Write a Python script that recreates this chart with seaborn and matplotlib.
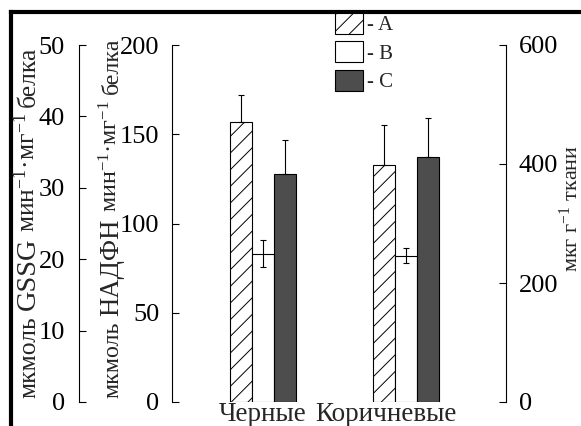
import numpy as np
import pandas as pd
import matplotlib
matplotlib.use("Agg")
import matplotlib.pyplot as plt
import matplotlib.transforms as mtransforms
import seaborn as sns
from matplotlib.patches import Patch
from matplotlib.lines import Line2D

# ---- data ----
groups = ["Черные", "Коричневые"]
series = ["A", "B", "C"]
values_A = [157, 133]
values_B = [83, 82]
values_C = [128, 137]
err_A = [15, 22]
err_B = [7.5, 4.2]
err_C = [19, 22]
legend_labels = ["- A", "- B", "- C"]
gssg_ticks = [0, 10, 20, 30, 40, 50]
nadph_ticks = [0, 50, 100, 150, 200]
right_ticks = [0, 200, 400, 600]

sns.set_style("white")
plt.rcParams["font.family"] = ["Liberation Serif", "DejaVu Serif"]
plt.rcParams["mathtext.fontset"] = "custom"
plt.rcParams["mathtext.rm"] = "Liberation Serif"
plt.rcParams["mathtext.it"] = "Liberation Serif:italic"
plt.rcParams["mathtext.default"] = "regular"
plt.rcParams["hatch.linewidth"] = 0.7

W, H = 581, 426
fig = plt.figure(figsize=(W / 100, H / 100), dpi=100)
fig.patch.set_facecolor("white")

ax = fig.add_axes([172 / W, 24 / H, 334 / W, 357 / H])

vals = [values_A, values_B, values_C]
df = pd.DataFrame({
    "group": [g for s in series for g in groups],
    "series": [s for s in series for g in groups],
    "value": [v for vs in vals for v in vs],
})
colors = {"A": "white", "B": "white", "C": "#4d4d4d"}
sns.barplot(data=df, x="group", y="value", hue="series", order=groups,
            hue_order=series, palette=colors, saturation=1, width=0.46,
            errorbar=None, edgecolor="black", linewidth=0.8, ax=ax, legend=False)

for bar in ax.containers[0]:
    bar.set_hatch("//")

errs = [err_A, err_B, err_C]
for i, (cont, er) in enumerate(zip(ax.containers, errs)):
    for bar, e in zip(cont, er):
        x = bar.get_x() + bar.get_width() / 2
        h = bar.get_height()
        if series[i] == "B":
            yerr = [[e], [e]]
        else:
            yerr = [[0], [e]]
        ax.errorbar([x], [h], yerr=yerr, fmt="none", ecolor="black",
                    elinewidth=0.8, capsize=2.5, capthick=0.8, zorder=5)

ax.set_xlim(-0.636, 1.699)
ax.set_ylim(0, 200)
ax.set_xlabel("")
ax.set_ylabel("")
ax.set_yticks(nadph_ticks)
for s in ["top", "right", "bottom"]:
    ax.spines[s].set_visible(False)
ax.spines["left"].set_color("black")
ax.spines["left"].set_linewidth(0.8)
ax.yaxis.tick_left()
ax.tick_params(axis="y", direction="in", length=5, width=0.8, pad=9,
               labelsize=19, colors="black")
ax.tick_params(axis="x", length=0, pad=0, labelsize=19.5)
ax.set_facecolor("none")
# second category label sits left of its group centre in the reference
xt = ax.get_xticklabels()
xt[1].set_transform(xt[1].get_transform() +
                    mtransforms.ScaledTranslation(-20 / 100, 0, fig.dpi_scale_trans))

# GSSG axis
ax2 = ax.twinx()
ax2.set_ylim(0, 50)
ax2.set_yticks(gssg_ticks)
ax2.yaxis.tick_left()
for s in ["top", "right", "bottom"]:
    ax2.spines[s].set_visible(False)
ax2.spines["left"].set_visible(True)
ax2.spines["left"].set_position(("axes", (79 - 172) / 334))
ax2.spines["left"].set_color("black")
ax2.spines["left"].set_linewidth(0.8)
ax2.tick_params(axis="y", direction="in", length=5, width=0.8, pad=10,
                labelsize=19, colors="black")

# right axis
ax3 = ax.twinx()
ax3.set_ylim(0, 600)
ax3.set_yticks(right_ticks)
for s in ["top", "left", "bottom"]:
    ax3.spines[s].set_visible(False)
ax3.spines["right"].set_color("black")
ax3.spines["right"].set_linewidth(0.8)
ax3.tick_params(axis="y", direction="in", length=5, width=0.8, pad=9,
                labelsize=19, colors="black")

# legend
handles = [Patch(facecolor="white", edgecolor="black", hatch="//", linewidth=0.8),
           Patch(facecolor="white", edgecolor="black", linewidth=0.8),
           Patch(facecolor="#4d4d4d", edgecolor="black", linewidth=0.8)]
fs_leg = 15
px = fs_leg * 100 / 72
fig.legend(handles, legend_labels, loc="upper left",
           bbox_to_anchor=(335 / W, 1 - 13 / H), bbox_transform=fig.transFigure,
           frameon=False, fontsize=fs_leg, handlelength=28 / px,
           handleheight=24 / px, labelspacing=6 / px, handletextpad=4 / px,
           borderpad=0, borderaxespad=0)

# frame lines
fig.add_artist(Line2D([11 / W, 11 / W], [-0.05, 1 - 12 / H], color="black",
                      lw=3, transform=fig.transFigure, solid_capstyle="projecting"))
fig.add_artist(Line2D([11 / W, 1.05], [1 - 12 / H, 1 - 12 / H], color="black",
                      lw=3, transform=fig.transFigure, solid_capstyle="projecting"))

renderer = fig.canvas.get_renderer()


def build(pieces, x_px, ybot_px, scale):
    texts = []
    y = H - ybot_px
    top = y
    for s, size, gap in pieces:
        t = fig.text(x_px / W, y / H, s, rotation=90, rotation_mode="anchor",
                     ha="left", va="baseline", fontsize=size * scale)
        bb = t.get_window_extent(renderer)
        texts.append(t)
        top = bb.y1
        y = bb.y1 + gap
    return texts, top


def stack_label(pieces, x_px, ybot_px, ytop_px):
    texts, top = build(pieces, x_px, ybot_px, 1.0)
    span = top - (H - ybot_px)
    for t in texts:
        t.remove()
    gaps = sum(g for _, _, g in pieces)
    scale = (ybot_px - ytop_px - gaps) / (span - gaps)
    build(pieces, x_px, ybot_px, scale)


stack_label([("мкмоль", 18, 6), ("GSSG", 20, 6),
             ("мин$^{-1}$·мг$^{-1}$", 18, 6), ("белка", 18, 0)], 35, 398, 46)
stack_label([("мкмоль", 18, 6), ("НАДФН", 20, 6),
             ("мин$^{-1}$·мг$^{-1}$", 18, 6), ("белка", 18, 0)], 118, 398, 38)

fig.text(578 / W, (H - 208) / H, "мкг г$^{-1}$ ткани", rotation=90,
         rotation_mode="anchor", ha="center", va="baseline", fontsize=16)

fig.savefig("out.png", dpi=100)
